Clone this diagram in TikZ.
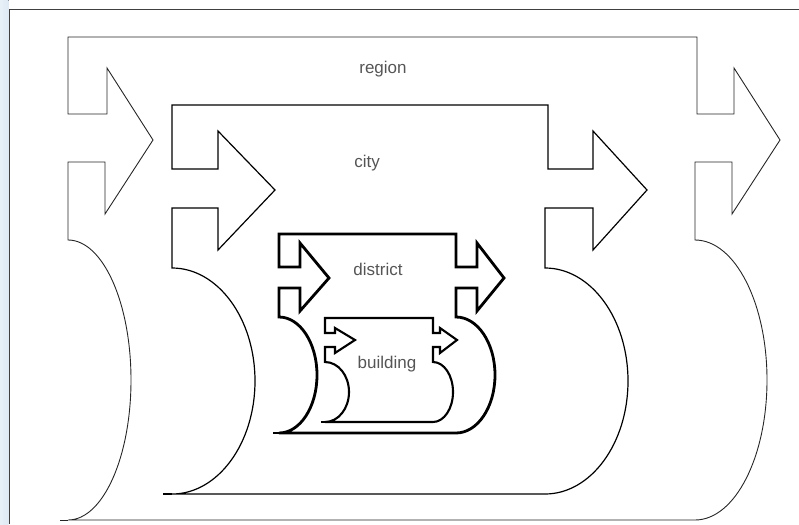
\documentclass[tikz,border=0pt]{standalone}
\usepackage{fontspec}
\setmainfont{Liberation Sans}
\definecolor{screenblue}{RGB}{222,233,244}
\definecolor{inkgray}{RGB}{85,85,85}
\begin{document}
\begin{tikzpicture}[x=1pt,y=-1pt,
    regionline/.style={draw=black!85,line width=0.9pt,line join=miter},
    cityline/.style={draw=black,line width=1.2pt,line join=miter},
    districtline/.style={draw=black,line width=2.8pt,line join=miter},
    buildingline/.style={draw=black,line width=2.1pt,line join=miter},
    lbl/.style={text=inkgray,font=\fontsize{17}{20}\selectfont,inner sep=0pt}]
  \useasboundingbox (0,0) rectangle (799,524);
  % screen edge and frame
  \fill[left color=screenblue!70,right color=screenblue] (0,0) rectangle (8.5,524);
  \draw[black!75,line width=1pt] (9,524) -- (9,10) -- (799,10);

  % region
  \draw[regionline] (68,37) -- (697,37) -- (697,114) -- (734,114) -- (734,68) -- (780,140)
    -- (732,214) -- (732,162) -- (695,162) -- (695,240)
    arc[start angle=90,end angle=-90,x radius=72pt,y radius=140pt]
    -- (68,520) arc[start angle=-90,end angle=90,x radius=63pt,y radius=140pt]
    -- (68,162) -- (105,162) -- (105,214) -- (153,140) -- (107,68) -- (107,114) -- (68,114) -- cycle;
  \draw[regionline] (60,520) -- (68,520);
  \node[lbl] (region) at (383,69) {region};

  % city
  \draw[cityline] (172,105) -- (548,105) -- (548,169) -- (593,169) -- (593,131) -- (647,190)
    -- (593,250) -- (593,208) -- (545,208) -- (545,268)
    arc[start angle=90,end angle=-90,x radius=83pt,y radius=113pt]
    -- (172,494) arc[start angle=-90,end angle=90,x radius=83pt,y radius=113pt]
    -- (172,208) -- (218,208) -- (218,250) -- (275,190) -- (218,131) -- (218,169) -- (172,169) -- cycle;
  \draw[cityline] (163,494) -- (172,494);
  \node[lbl] (city) at (367,163) {city};

  % district
  \draw[districtline] (279,234) -- (456,234) -- (456,267) -- (477,267) -- (477,243) -- (504,278)
    -- (477,311) -- (477,288) -- (456,288) -- (456,317)
    arc[start angle=90,end angle=-90,x radius=39pt,y radius=58pt]
    -- (279,433) arc[start angle=-90,end angle=90,x radius=38pt,y radius=58pt]
    -- (279,288) -- (300,288) -- (300,311) -- (329,278) -- (300,243) -- (300,267) -- (279,267) -- cycle;
  \draw[districtline] (273,433) -- (279,433);
  \node[lbl] (district) at (378,269) {district};

  % building
  \draw[buildingline] (325,318) -- (433,318) -- (433,333) -- (440,333) -- (440,328) -- (457,340)
    -- (440,353) -- (440,347) -- (433,347) -- (433,362)
    arc[start angle=90,end angle=-90,x radius=20pt,y radius=30pt]
    -- (325,422) arc[start angle=-90,end angle=90,x radius=24pt,y radius=30pt]
    -- (325,347) -- (335,347) -- (335,353) -- (355,340) -- (335,328) -- (335,333) -- (325,333) -- cycle;
  \draw[buildingline] (321,422) -- (325,422);
  \node[lbl] (building) at (387,364) {building};
\end{tikzpicture}
\end{document}
